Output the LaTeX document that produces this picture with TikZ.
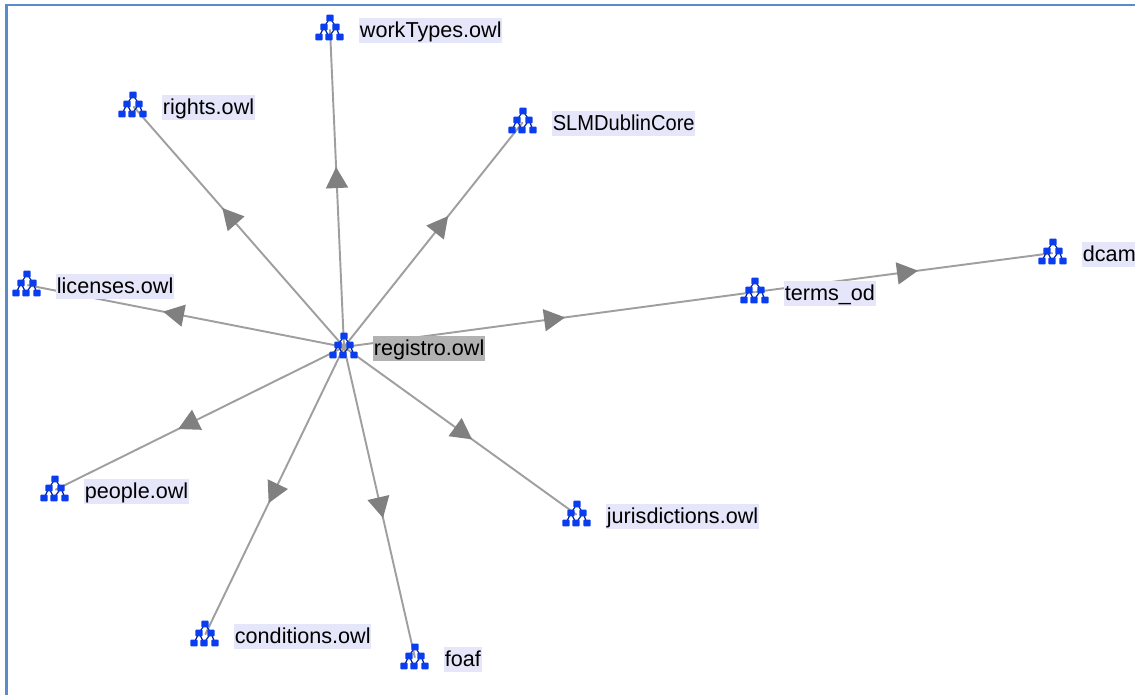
\documentclass[tikz,border=0pt]{standalone}
\usepackage{fontspec}
\setmainfont{Liberation Sans}
\usetikzlibrary{positioning,arrows.meta,decorations.markings}
\definecolor{frameblue}{HTML}{5B8BC9}
\definecolor{labelbg}{HTML}{E6E6FA}
\definecolor{iconblue}{HTML}{0A3CF0}
\tikzset{
    ontoicon/.pic = {
        \draw[iconblue!60!black, line width=0.7pt] (0,-11) -- (-6,-2) -- (-11,8) (-6,-2) -- (-1,8) (0,-11) -- (6,-2) -- (-1,8) (6,-2) -- (10,8);
        \foreach \a/\b in {0/-11, -6/-2, 6/-2, -11/8, -1/8, 10/8}
            \fill[iconblue, rounded corners=0.5pt] (\a-3.6,\b-3.4) rectangle (\a+3.6,\b+3.4);
    }
}
\begin{document}
\begin{tikzpicture}[x=0.02cm, y=-0.02cm, node distance={5.7mm},
    main/.style = {inner sep=0, minimum size=0},
    lbl/.style = {fill=labelbg, inner xsep=0.4pt, inner ysep=0, yshift=-0.6pt, text height=11.6pt, text depth=2.6pt, font=\fontsize{12.3}{14}\selectfont},
    link/.style = {draw=gray!75, line width=1.1pt, postaction={decorate},
        decoration={markings, mark=at position #1 with {\arrow[gray]{Triangle[length=4.2mm, width=4.4mm]}}}}]
    \useasboundingbox (0,0) rectangle (1135,695);
    % cornice
    \draw[frameblue, line width=1.5pt] (6.5,695) -- (6.5,5) -- (1135,5);

    % nodi
    \node[main] (reg) at (344,347) {};
    \node[main] (work) at (330,29) {};
    \node[main] (rights) at (133,106) {};
    \node[main] (slm) at (523,122) {};
    \node[main] (lic) at (27,285) {};
    \node[main] (terms) at (755,292) {};
    \node[main] (dcam) at (1053,253) {};
    \node[main] (people) at (55,490) {};
    \node[main] (cond) at (205,635) {};
    \node[main] (foaf) at (415,658) {};
    \node[main] (juris) at (577,515) {};

    % archi
    \draw[link=0.566] (reg) -- (work);
    \draw[link=0.577] (reg) -- (rights);
    \draw[link=0.582] (reg) -- (slm);
    \draw[link=0.571] (reg) -- (lic);
    \draw[link=0.538] (reg) -- (terms);
    \draw[link=0.547] (terms) -- (dcam);
    \draw[link=0.574] (reg) -- (people);
    \draw[link=0.542] (reg) -- (cond);
    \draw[link=0.55] (reg) -- (foaf);
    \draw[link=0.55] (reg) -- (juris);

    % icone
    \foreach \n in {reg, work, rights, slm, lic, terms, dcam, people, cond, foaf, juris}
        \pic at (\n) {ontoicon};

    % etichette
    \node[lbl, right=of reg, fill=gray!60] (reglbl) {registro.owl};
    \node[lbl, right=of work] (worklbl) {workTypes.owl};
    \node[lbl, right=of rights] (rightslbl) {rights.owl};
    \node[lbl, right=of slm, xscale=0.93] (slmlbl) {SLMDublinCore};
    \node[lbl, right=of lic] (liclbl) {licenses.owl};
    \node[lbl, right=of terms] (termslbl) {terms\_od};
    \node[lbl, right=of dcam] (dcamlbl) {dcam};
    \node[lbl, right=of people] (peoplelbl) {people.owl};
    \node[lbl, right=of cond] (condlbl) {conditions.owl};
    \node[lbl, right=of foaf] (foaflbl) {foaf};
    \node[lbl, right=of juris] (jurislbl) {jurisdictions.owl};

\end{tikzpicture}
\end{document}
